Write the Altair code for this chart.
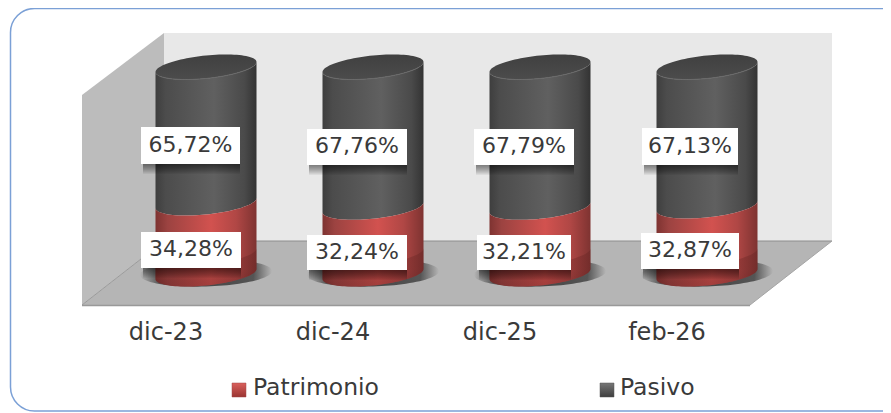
import math
import altair as alt
import pandas as pd

categories = ["dic-23", "dic-24", "dic-25", "feb-26"]
patrimonio = [34.28, 32.24, 32.21, 32.87]
pasivo = [65.72, 67.76, 67.79, 67.13]
series_names = ["Patrimonio", "Pasivo"]

FONT = "DejaVu Sans"
W, H = 875, 405
# category position 0 sits at pixel 206, step 167; percent 0 at pixel 274, 2.07 px per percent
X0, XSTEP = 206, 167
Y0, YSTEP = 274, 2.07


def xd(px):
    return (px - X0) / XSTEP


def yd(py):
    return (Y0 - py) / YSTEP


xscale = alt.Scale(domain=[xd(8), xd(8 + W)], range=[0, W], nice=False, zero=False)
yscale = alt.Scale(domain=[yd(8 + H), yd(8)], range=[H, 0], nice=False, zero=False)


def ex(f="x"):
    return alt.X(f"{f}:Q", scale=xscale, axis=None)


def ey(f="y"):
    return alt.Y(f"{f}:Q", scale=yscale, axis=None)


layers = []


def poly(points, color, **kw):
    df = pd.DataFrame([{"x": xd(a), "y": yd(b), "y2": yd(c)} for a, b, c in points])
    layers.append(
        alt.Chart(df).mark_area(color=color, **kw).encode(x=ex(), y=ey(), y2=alt.Y2("y2:Q"))
    )


def line(points, color, width):
    df = pd.DataFrame([{"x": xd(a), "y": yd(b), "o": i} for i, (a, b) in enumerate(points)])
    layers.append(
        alt.Chart(df).mark_line(color=color, strokeWidth=width).encode(
            x=ex(), y=ey(), order="o:Q"
        )
    )


def rect(x1, x2, y1, y2, **kw):
    df = pd.DataFrame([{"x": xd(x1), "x2": xd(x2), "y": yd(y1), "y2": yd(y2)}])
    layers.append(
        alt.Chart(df).mark_rect(**kw).encode(
            x=ex(), x2=alt.X2("x2:Q"), y=ey(), y2=alt.Y2("y2:Q")
        )
    )


def text(label, x, y, size, align="center"):
    df = pd.DataFrame([{"x": xd(x), "y": yd(y), "t": label}])
    layers.append(
        alt.Chart(df).mark_text(
            font=FONT, fontSize=size, color="#3A3A3A", align=align, baseline="middle"
        ).encode(x=ex(), y=ey(), text="t:N")
    )


def hgrad(stops):
    return alt.LinearGradient(
        gradient="linear", x1=0, x2=1, y1=0, y2=0,
        stops=[alt.GradientStop(offset=o, color=c) for o, c in stops],
    )


def vgrad(stops):
    return alt.LinearGradient(
        gradient="linear", x1=0, x2=0, y1=0, y2=1,
        stops=[alt.GradientStop(offset=o, color=c) for o, c in stops],
    )


# frame
rect(10.5, 905, 8.5, 411, fill="white", stroke="#7BA0D6", strokeWidth=1.5, cornerRadius=24)

# walls and floor
poly([(164, 33, 241), (832, 33, 241)], "#E8E8E8")
poly([(82, 95, 305), (164, 33, 241)], "#BCBCBC")
poly([(82, 305, 305), (164, 241, 305), (750, 241, 305), (832, 241, 241)], "#B5B5B5")
line([(164, 241), (832, 241)], "#8E8E8E", 1)
line([(82, 305), (164, 241)], "#9A9A9A", 1)
line([(82, 305.5), (750, 305.5)], "#999999", 1.5)
line([(750, 305), (832, 241)], "#A5A5A5", 1)

A, B, T = 50.5, 11.5, 5.0
US = [-math.cos(math.pi * k / 48) for k in range(49)]
RED = [(0, "#7E3331"), (0.12, "#9C4341"), (0.55, "#D2524F"), (0.8, "#B04745"), (1, "#7E3331")]
DARK = [(0, "#3E3E3E"), (0.1, "#4C4C4C"), (0.58, "#606060"), (0.88, "#4A4A4A"), (1, "#333333")]


def ellipse_rows(cx, cy, a=A, b=B, t=T):
    return [
        (cx + a * u, cy - t * u - b * math.sqrt(max(0, 1 - u * u)),
         cy - t * u + b * math.sqrt(max(0, 1 - u * u)))
        for u in US
    ]


def body_rows(cx, lo, hi):
    return [
        (cx + A * u,
         Y0 - hi * YSTEP - T * u + B * math.sqrt(max(0, 1 - u * u)),
         Y0 - lo * YSTEP - T * u + B * math.sqrt(max(0, 1 - u * u)))
        for u in US
    ]


for i in range(len(categories)):
    cx = X0 + i * XSTEP
    # floor shadow
    sh = pd.DataFrame(
        [{"x": xd(a), "y": yd(b), "y2": yd(c)} for a, b, c in ellipse_rows(cx, 273, 66, 13.5, 2)]
    )
    layers.append(
        alt.Chart(sh).mark_area(
            color=alt.RadialGradient(
                gradient="radial", x1=0.5, y1=0.5, x2=0.5, y2=0.5, r1=0, r2=0.5,
                stops=[
                    alt.GradientStop(offset=0, color="#444444"),
                    alt.GradientStop(offset=0.72, color="#555555"),
                    alt.GradientStop(offset=1, color="#B5B5B5"),
                ],
            )
        ).encode(x=ex(), y=ey(), y2=alt.Y2("y2:Q"))
    )
    p = patrimonio[i]
    total = p + pasivo[i]
    poly(body_rows(cx, p, total), hgrad(DARK))
    poly(body_rows(cx, 0, p), hgrad(RED))
    # darkening at the foot of the cylinder
    df = pd.DataFrame(
        [{"x": xd(a), "y": yd(b), "y2": yd(c)} for a, b, c in body_rows(cx, 0, 10)]
    )
    layers.append(
        alt.Chart(df).mark_area(
            color=vgrad([(0, "#5A1E1D"), (0.55, "#5A1E1D"), (1, "#3A1010")]), opacity=0.3
        ).encode(x=ex(), y=ey(), y2=alt.Y2("y2:Q"))
    )
    # cap
    cy = Y0 - total * YSTEP
    poly(ellipse_rows(cx, cy), vgrad([(0, "#404040"), (1, "#4C4C4C")]))
    line(
        [(cx + A * u, cy - T * u + B * math.sqrt(max(0, 1 - u * u))) for u in US[6:-6]],
        "#6A6A6A", 1,
    )

top_boxes = [(141, 240, 127, 164), (307, 407, 129, 165), (474, 574, 129, 165), (642, 738, 128, 165)]
low_boxes = [(141, 241, 232, 268), (307, 407, 235, 270), (477, 571, 235, 270), (641, 739, 233, 269)]
for i in range(len(categories)):
    for box, val in ((top_boxes[i], pasivo[i]), (low_boxes[i], patrimonio[i])):
        x1, x2, y1, y2 = box
        for grow in range(1, 11):
            rect(x1 + 2, x2 - 0, y1, y2 + grow, color="black", opacity=0.055)
        rect(x1, x2, y1, y2, color="white")
        text(f"{val:.2f}%".replace(".", ","), (x1 + x2) / 2, (y1 + y2) / 2 - 1, 22)

for i, c in enumerate(categories):
    text(c, X0 + i * XSTEP - 40, 333, 24)

rect(232, 246, 383, 397, fill=vgrad([(0, "#D9605C"), (1, "#9A3431")]), stroke="#A04A48", strokeWidth=0.5)
rect(600, 614, 383, 397, fill=vgrad([(0, "#777777"), (1, "#3E3E3E")]), stroke="#555555", strokeWidth=0.5)
text(series_names[0], 253, 388, 23.5, "left")
text(series_names[1], 620, 388, 23.5, "left")

chart = alt.layer(*layers).properties(
    width=W, height=H, padding=0, autosize=alt.AutoSizeParams(type="none"), background="white",
).configure_view(stroke=None)

chart.save("out.html", embed_options={"renderer": "svg", "actions": False})
